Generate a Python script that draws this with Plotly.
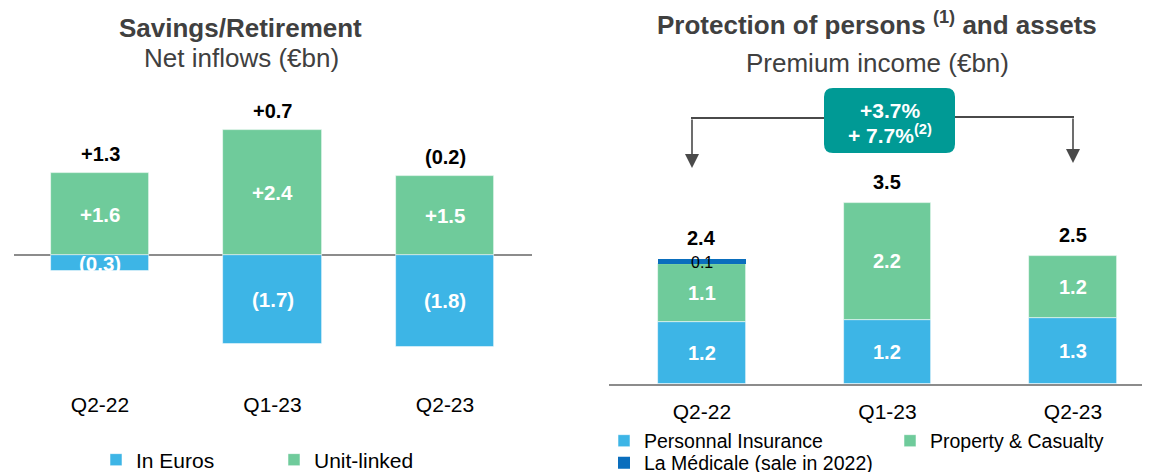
import plotly.graph_objects as go

W, H = 1150, 472
OX, OY = 8, 8  # page body offset of the rendered figure

# ---------------- data ----------------
quarters = ["Q2-22", "Q1-23", "Q2-23"]

# Savings / Retirement net inflows (EUR bn)
in_euros = [-0.31, -1.71, -1.76]
unit_linked = [1.57, 2.40, 1.52]

# Protection premium income (EUR bn)
personal_ins = [1.20, 1.24, 1.26]
prop_casualty = [1.10, 2.24, 1.21]
la_medicale = [0.10, 0.0, 0.0]

growth_lines = ["+3.7%", "+ 7.7%<sup>(2)</sup>"]

C_BLUE = "#3DB5E6"
C_GREEN = "#6FCB9B"
C_DARK = "#0A6EBD"
C_TEAL = "#009A95"
C_AXIS = "#8C8C8C"
C_TITLE = "#404040"
C_ARROW = "#4A4A4A"
FONT = "Liberation Sans, Arial, sans-serif"


def px(x):
    return (x - OX) / W


def py(y):
    return 1 - (y - OY) / H


def signed(v):
    return f"+{v:.1f}" if v >= 0 else f"({abs(v):.1f})"


fig = go.Figure()
edge = dict(width=0.75, color="rgba(255,255,255,0.7)")

# ---------------- left panel ----------------
fig.add_trace(go.Bar(x=quarters, y=in_euros, name="In Euros", marker_color=C_BLUE, marker_line=edge,
                     width=0.57, xaxis="x", yaxis="y", legend="legend", hoverinfo="skip"))
fig.add_trace(go.Bar(x=quarters, y=unit_linked, name="Unit-linked", marker_color=C_GREEN, marker_line=edge,
                     width=0.57, xaxis="x", yaxis="y", legend="legend", hoverinfo="skip"))

# ---------------- right panel ----------------
fig.add_trace(go.Bar(x=quarters, y=personal_ins, name="Personnal Insurance", marker_color=C_BLUE,
                     marker_line=edge, width=0.474, xaxis="x2", yaxis="y2", legend="legend2",
                     hoverinfo="skip"))
fig.add_trace(go.Bar(x=quarters, y=prop_casualty, name="Property & Casualty", marker_color=C_GREEN,
                     marker_line=edge, width=0.474, xaxis="x2", yaxis="y2", legend="legend3",
                     hoverinfo="skip"))
fig.add_trace(go.Bar(x=quarters, y=la_medicale, name="La Médicale (sale in 2022)", marker_color=C_DARK,
                     marker_line=dict(width=0), width=0.474, xaxis="x2", yaxis="y2", legend="legend4",
                     hoverinfo="skip"))

ann = []


def A(**kw):
    base = dict(showarrow=False, xanchor="center", yanchor="middle")
    base.update(kw)
    ann.append(base)


# left labels
for q, e, u in zip(quarters, in_euros, unit_linked):
    A(x=q, y=u / 2, xref="x", yref="y", text=f"<b>{signed(u)}</b>", font=dict(size=20.5, color="white"))
    A(x=q, y=e / 2, xref="x", yref="y", text=f"<b>{signed(e)}</b>", font=dict(size=20.5, color="white"))
    A(x=q, y=max(u, 0), xref="x", yref="y", text=f"<b>{signed(u + e)}</b>", yshift=19,
      font=dict(size=20, color="black"))

# right labels
for q, a, b, c in zip(quarters, personal_ins, prop_casualty, la_medicale):
    A(x=q, y=a / 2, xref="x2", yref="y2", text=f"<b>{a:.1f}</b>", font=dict(size=20, color="white"))
    A(x=q, y=a + b / 2, xref="x2", yref="y2", text=f"<b>{b:.1f}</b>", font=dict(size=20, color="white"))
    if c > 0:
        A(x=q, y=a + b + c / 2, xref="x2", yref="y2", text=f"{c:.1f}", yshift=-1,
          font=dict(size=16, color="black"))
    A(x=q, y=a + b + c, xref="x2", yref="y2", text=f"<b>{a + b + c:.1f}</b>", yshift=21,
      font=dict(size=20, color="black"))

# titles
A(x=px(240), y=py(28), xref="paper", yref="paper", text="<b>Savings/Retirement</b>",
  font=dict(size=26, color=C_TITLE))
A(x=px(241), y=py(58), xref="paper", yref="paper", text="Net inflows (€bn)",
  font=dict(size=26, color=C_TITLE))
A(x=px(877), y=py(23), xref="paper", yref="paper",
  text="<b>Protection of persons <sup>(1)</sup> and assets</b>", font=dict(size=26, color=C_TITLE))
A(x=px(877), y=py(63), xref="paper", yref="paper", text="Premium income (€bn)",
  font=dict(size=26, color=C_TITLE))

# growth box text
A(x=px(889.5), y=py(111), xref="paper", yref="paper", text=f"<b>{growth_lines[0]}</b>",
  font=dict(size=21, color="white"))
A(x=px(889.5), y=py(134), xref="paper", yref="paper", text=f"<b>{growth_lines[1]}</b>",
  font=dict(size=21, color="white"))

# arrows
ann.append(dict(x=px(692), y=py(168), xref="paper", yref="paper", text="", showarrow=True,
                ax=0, ay=-50, arrowhead=2, arrowsize=1.75, arrowwidth=1.6, arrowcolor=C_ARROW))
ann.append(dict(x=px(1073), y=py(163), xref="paper", yref="paper", text="", showarrow=True,
                ax=0, ay=-46, arrowhead=2, arrowsize=1.75, arrowwidth=1.6, arrowcolor=C_ARROW))

# rounded teal box
x0, x1, y0, y1, r = 824, 955, 88, 153, 9
path = (f"M {px(x0 + r)} {py(y0)} L {px(x1 - r)} {py(y0)} Q {px(x1)} {py(y0)} {px(x1)} {py(y0 + r)} "
        f"L {px(x1)} {py(y1 - r)} Q {px(x1)} {py(y1)} {px(x1 - r)} {py(y1)} "
        f"L {px(x0 + r)} {py(y1)} Q {px(x0)} {py(y1)} {px(x0)} {py(y1 - r)} "
        f"L {px(x0)} {py(y0 + r)} Q {px(x0)} {py(y0)} {px(x0 + r)} {py(y0)} Z")
shapes = [
    dict(type="path", path=path, xref="paper", yref="paper", fillcolor=C_TEAL, line=dict(width=0),
         layer="above"),
    dict(type="line", xref="paper", yref="paper", x0=px(691), x1=px(824), y0=py(118), y1=py(118),
         line=dict(color=C_ARROW, width=1.8)),
    dict(type="line", xref="paper", yref="paper", x0=px(955), x1=px(1074), y0=py(117), y1=py(117),
         line=dict(color=C_ARROW, width=1.8)),
]

leg_common = dict(orientation="v", xanchor="left", yanchor="middle",
                  font=dict(size=19.5, color="black"), traceorder="normal",
                  bgcolor="rgba(0,0,0,0)")

fig.update_layout(
    width=W, height=H,
    margin=dict(l=0, r=0, t=0, b=0, autoexpand=False),
    paper_bgcolor="white", plot_bgcolor="white",
    barmode="relative", bargap=0,
    font=dict(family=FONT, color="black"),
    xaxis=dict(domain=[px(14), px(532)], range=[-0.4986, 2.504], anchor="y",
               showline=False, ticks="", showgrid=False, zeroline=False,
               tickfont=dict(size=21, color="black"), fixedrange=True),
    yaxis=dict(domain=[py(390), py(90)], range=[-(390 - 255) / 52, (255 - 90) / 52], anchor="x",
               showticklabels=False, showgrid=False, zeroline=True, zerolinecolor=C_AXIS,
               zerolinewidth=1.6, ticks="", fixedrange=True),
    xaxis2=dict(domain=[px(609), px(1150)], range=[-0.501, 2.415], anchor="y2",
                showline=True, linecolor=C_AXIS, linewidth=2, ticks="", showgrid=False,
                zeroline=False, tickfont=dict(size=21, color="black"), ticklabelstandoff=8,
                fixedrange=True),
    yaxis2=dict(domain=[py(384), py(90)], range=[0, (384 - 90) / 52], anchor="x2",
                showticklabels=False, showgrid=False, zeroline=False, ticks="", fixedrange=True),
    legend=dict(orientation="h", x=px(96), y=py(460), xanchor="left", yanchor="middle",
                font=dict(size=21, color="black"), entrywidth=133, traceorder="normal",
                bgcolor="rgba(0,0,0,0)"),
    legend2=dict(x=px(604), y=py(441), **leg_common),
    legend3=dict(x=px(890), y=py(441), **leg_common),
    legend4=dict(x=px(604), y=py(463), **leg_common),
    annotations=ann,
    shapes=shapes,
    showlegend=True,
)

fig.write_html("out.html")
